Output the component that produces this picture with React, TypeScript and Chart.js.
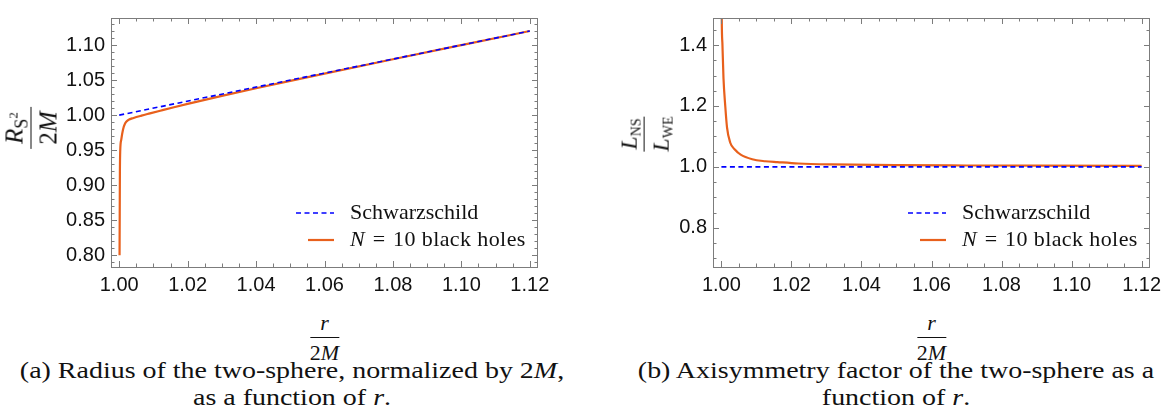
import React, { useEffect, useRef } from 'react';
import { Chart, registerables } from 'chart.js';

Chart.register(...registerables);

// ---------- data ----------
const xTickValues = [1.0, 1.02, 1.04, 1.06, 1.08, 1.1, 1.12];
const xTickLabels = ['1.00', '1.02', '1.04', '1.06', '1.08', '1.10', '1.12'];

const radiusTickValues = [0.8, 0.85, 0.9, 0.95, 1.0, 1.05, 1.1];
const radiusTickLabels = ['0.80', '0.85', '0.90', '0.95', '1.00', '1.05', '1.10'];

const axisTickValues = [0.8, 1.0, 1.2, 1.4];
const axisTickLabels = ['0.8', '1.0', '1.2', '1.4'];

// (a) radius of the two-sphere / 2M
const schwRadiusR = [1.0, 1.12];
const schwRadiusValues = [1.0, 1.12];
const bhRadiusR = [1.0001, 1.00015, 1.0002, 1.0003, 1.0006, 1.0011, 1.0017, 1.0027, 1.0042, 1.0065, 1.009, 1.012, 1.016, 1.02, 1.03, 1.04, 1.05, 1.06, 1.08, 1.1, 1.12];
const bhRadiusValues = [0.8, 0.86, 0.918, 0.9495, 0.965, 0.979, 0.988, 0.9932, 0.996, 0.9993, 1.0025, 1.0063, 1.0113, 1.0161, 1.0274, 1.0383, 1.0489, 1.0593, 1.0797, 1.0999, 1.12];

// (b) axisymmetry factor L_NS / L_WE
const schwAxisR = [1.0, 1.12];
const schwAxisValues = [1.0, 1.0];
const bhAxisR = [1.00005, 1.0001, 1.0003, 1.0006, 1.0011, 1.0016, 1.0025, 1.0039, 1.0055, 1.0088, 1.0125, 1.016, 1.022, 1.0316, 1.05, 1.07, 1.09, 1.12];
const bhAxisValues = [1.6, 1.49, 1.4, 1.29, 1.2, 1.13, 1.08, 1.056, 1.04, 1.025, 1.0185, 1.0155, 1.011, 1.008, 1.0055, 1.0045, 1.004, 1.0035];

const legendLabels = ['Schwarzschild', 'black holes'];

// ---------- styles ----------
const BLUE = '#0000ff';
const ORANGE = '#e8601c';
const FRAME = '#7c7c7c';
const SERIF = '"Liberation Serif", "Times New Roman", serif';
const SANS = '"Liberation Sans", Arial, sans-serif';

const toPoints = (xs: number[], ys: number[]) => xs.map((x, i) => ({ x, y: ys[i] }));

type PanelSpec = {
  schwR: number[];
  schwV: number[];
  bhR: number[];
  bhV: number[];
  xMin: number;
  xMax: number;
  yMin: number;
  yMax: number;
  yTicks: number[];
  yLabels: string[];
  yMinorStep: number;
  xMinorStep: number;
  padTop: number;
  padRight: number;
  yWidth: number;
  xHeight: number;
};

const frameTicksPlugin = {
  id: 'frameTicks',
  afterDraw(chart: any) {
    const spec = chart.options.plugins.frameTicks as any;
    const { ctx, chartArea } = chart;
    const { left, right, top, bottom } = chartArea;
    const xs = chart.scales.x;
    const ys = chart.scales.y;
    ctx.save();
    ctx.strokeStyle = FRAME;
    ctx.lineWidth = 1;
    ctx.strokeRect(Math.round(left) + 0.5, Math.round(top) + 0.5, Math.round(right - left) - 1, Math.round(bottom - top));
    const major = 6;
    const minor = 3.5;
    const drawX = (v: number, len: number) => {
      const p = Math.round(xs.getPixelForValue(v)) + 0.5;
      ctx.beginPath();
      ctx.moveTo(p, bottom);
      ctx.lineTo(p, bottom - len);
      ctx.moveTo(p, top);
      ctx.lineTo(p, top + len);
      ctx.stroke();
    };
    const drawY = (v: number, len: number) => {
      const p = Math.round(ys.getPixelForValue(v)) + 0.5;
      ctx.beginPath();
      ctx.moveTo(left, p);
      ctx.lineTo(left + len, p);
      ctx.moveTo(right, p);
      ctx.lineTo(right - len, p);
      ctx.stroke();
    };
    const k0 = Math.ceil(xs.min / spec.xMinorStep - 1e-9);
    const k1 = Math.floor(xs.max / spec.xMinorStep + 1e-9);
    for (let k = k0; k <= k1; k++) {
      const v = k * spec.xMinorStep;
      const isMajor = xTickValues.some((t) => Math.abs(t - v) < 1e-9);
      drawX(v, isMajor ? major : minor);
    }
    const j0 = Math.ceil(ys.min / spec.yMinorStep - 1e-9);
    const j1 = Math.floor(ys.max / spec.yMinorStep + 1e-9);
    for (let j = j0; j <= j1; j++) {
      const v = j * spec.yMinorStep;
      const isMajor = spec.yTicks.some((t: number) => Math.abs(t - v) < 1e-9);
      drawY(v, isMajor ? major : minor);
    }

    // legend (lower right)
    const textX = right - 188;
    const y1 = 213;
    const y2 = 240;
    ctx.lineWidth = 1.6;
    ctx.strokeStyle = BLUE;
    ctx.setLineDash([5, 3.5]);
    ctx.beginPath();
    ctx.moveTo(right - 242, y1);
    ctx.lineTo(right - 204, y1);
    ctx.stroke();
    ctx.setLineDash([]);
    ctx.strokeStyle = ORANGE;
    ctx.lineWidth = 2.2;
    ctx.beginPath();
    ctx.moveTo(right - 230, y2);
    ctx.lineTo(right - 204, y2);
    ctx.stroke();

    ctx.fillStyle = '#111';
    ctx.textBaseline = 'middle';
    ctx.textAlign = 'left';
    ctx.font = `22px ${SERIF}`;
    ctx.fillText(legendLabels[0], textX, y1);
    ctx.font = `italic 22px ${SERIF}`;
    ctx.fillText('N', textX, y2);
    let x = textX + ctx.measureText('N').width + 8;
    ctx.font = `22px ${SERIF}`;
    ctx.fillText('=', x, y2);
    x += ctx.measureText('=').width + 8;
    (ctx as any).letterSpacing = '0.4px';
    ctx.fillText('10 ' + legendLabels[1], x, y2);
    (ctx as any).letterSpacing = '0px';
    ctx.restore();
  },
};

function makeConfig(s: PanelSpec): any {
  return {
    type: 'line',
    data: {
      datasets: [
        {
          label: 'Schwarzschild',
          data: toPoints(s.schwR, s.schwV),
          borderColor: BLUE,
          borderWidth: 1.6,
          borderDash: [5, 3.5],
          pointRadius: 0,
          fill: false,
          order: 1,
        },
        {
          label: 'N = 10 black holes',
          data: toPoints(s.bhR, s.bhV),
          borderColor: ORANGE,
          borderWidth: 2.2,
          pointRadius: 0,
          fill: false,
          cubicInterpolationMode: 'monotone',
          order: 2,
        },
      ],
    },
    options: {
      responsive: false,
      animation: false,
      layout: { padding: { left: 0, top: s.padTop, right: s.padRight, bottom: 0 } },
      plugins: {
        legend: { display: false },
        tooltip: { enabled: false },
        frameTicks: s,
      },
      scales: {
        x: {
          type: 'linear',
          min: s.xMin,
          max: s.xMax,
          grid: { display: false, drawTicks: false },
          border: { display: false },
          afterBuildTicks: (scale: any) => {
            scale.ticks = xTickValues.map((v) => ({ value: v }));
          },
          afterFit: (scale: any) => {
            scale.height = s.xHeight;
          },
          ticks: {
            autoSkip: false,
            maxRotation: 0,
            padding: 6,
            color: '#111',
            font: { family: SANS, size: 20 },
            callback: (_v: any, i: number) => xTickLabels[i],
          },
        },
        y: {
          type: 'linear',
          min: s.yMin,
          max: s.yMax,
          grid: { display: false, drawTicks: false },
          border: { display: false },
          afterBuildTicks: (scale: any) => {
            scale.ticks = s.yTicks.map((v) => ({ value: v }));
          },
          afterFit: (scale: any) => {
            scale.width = s.yWidth;
          },
          ticks: {
            autoSkip: false,
            padding: 6,
            color: '#111',
            font: { family: SANS, size: 20 },
            callback: (_v: any, i: number) => s.yLabels[i],
          },
        },
      },
    },
    plugins: [frameTicksPlugin],
  };
}

function Panel({ spec, left, width, height }: { spec: PanelSpec; left: number; width: number; height: number }) {
  const ref = useRef<HTMLCanvasElement | null>(null);
  useEffect(() => {
    if (!ref.current) return;
    const chart = new Chart(ref.current, makeConfig(spec));
    return () => chart.destroy();
  }, []);
  return (
    <canvas
      ref={ref}
      width={width}
      height={height}
      style={{ position: 'absolute', left, top: 0, width, height }}
    />
  );
}

function Frac({ num, den, size, pad = 3 }: { num: React.ReactNode; den: React.ReactNode; size: number; pad?: number }) {
  return (
    <div style={{ display: 'inline-flex', flexDirection: 'column', alignItems: 'center', fontSize: size, lineHeight: 1.1, fontFamily: SERIF, color: '#111' }}>
      <div style={{ padding: `0 ${pad}px 2px`, whiteSpace: 'nowrap' }}>{num}</div>
      <div style={{ alignSelf: 'stretch', borderTop: '1.2px solid #111', textAlign: 'center', paddingTop: 3, whiteSpace: 'nowrap' }}>{den}</div>
    </div>
  );
}

const twoM = (
  <span>
    2<i>M</i>
  </span>
);

const radiusSpec: PanelSpec = {
  schwR: schwRadiusR,
  schwV: schwRadiusValues,
  bhR: bhRadiusR,
  bhV: bhRadiusValues,
  xMin: 0.9976,
  xMax: 1.1224,
  yMin: 0.7833,
  yMax: 1.1386,
  yTicks: radiusTickValues,
  yLabels: radiusTickLabels,
  yMinorStep: 0.01,
  xMinorStep: 0.005,
  padTop: 3,
  padRight: 42,
  yWidth: 111,
  xHeight: 43,
};

const axisSpec: PanelSpec = {
  schwR: schwAxisR,
  schwV: schwAxisValues,
  bhR: bhAxisR,
  bhV: bhAxisValues,
  xMin: 0.9976,
  xMax: 1.1224,
  yMin: 0.671,
  yMax: 1.489,
  yTicks: axisTickValues,
  yLabels: axisTickLabels,
  yMinorStep: 0.05,
  xMinorStep: 0.005,
  padTop: 1,
  padRight: 22,
  yWidth: 113,
  xHeight: 43,
};

const captionStyle: React.CSSProperties = {
  position: 'absolute',
  top: 357,
  textAlign: 'center',
  fontFamily: SERIF,
  fontSize: 24,
  lineHeight: '27px',
  color: '#111',
  transform: 'scaleX(1.165)',
  transformOrigin: 'center',
  whiteSpace: 'nowrap',
};

export default function App() {
  return (
    <div style={{ position: 'absolute', left: 0, top: 0, width: 1172, height: 417, background: '#fff', overflow: 'hidden' }}>
      <Panel spec={radiusSpec} left={0} width={580} height={310} />
      <Panel spec={axisSpec} left={600} width={572} height={310} />

      {/* y titles */}
      <div style={{ position: 'absolute', left: 31, top: 128, transform: 'translate(-50%, -50%) rotate(-90deg)' }}>
        <Frac
          size={25}
          pad={5}
          num={
            <span>
              <i>R</i>
              <span style={{ fontSize: 18, position: 'relative', top: 5 }}>
                S<span style={{ fontSize: 13, position: 'relative', top: -10 }}>2</span>
              </span>
            </span>
          }
          den={twoM}
        />
      </div>
      <div style={{ position: 'absolute', left: 645, top: 134, transform: 'translate(-50%, -50%) rotate(-90deg)' }}>
        <Frac
          size={24}
          pad={2}
          num={
            <span>
              <i>L</i>
              <span style={{ fontSize: 14, position: 'relative', top: 4 }}>NS</span>
            </span>
          }
          den={
            <span>
              <i>L</i>
              <span style={{ fontSize: 14, position: 'relative', top: 4 }}>WE</span>
            </span>
          }
        />
      </div>

      {/* x titles */}
      <div style={{ position: 'absolute', left: 324.5, top: 311, transform: 'translateX(-50%)' }}>
        <Frac size={22} num={<i>r</i>} den={twoM} />
      </div>
      <div style={{ position: 'absolute', left: 931.5, top: 311, transform: 'translateX(-50%)' }}>
        <Frac size={22} num={<i>r</i>} den={twoM} />
      </div>

      {/* captions */}
      <div style={{ ...captionStyle, left: 0, width: 584 }}>
        (a) Radius of the two-sphere, normalized by 2<i>M</i>,<br />
        as a function of <i>r</i>.
      </div>
      <div style={{ ...captionStyle, left: 610, width: 572 }}>
        (b) Axisymmetry factor of the two-sphere as a<br />
        function of <i>r</i>.
      </div>
    </div>
  );
}
